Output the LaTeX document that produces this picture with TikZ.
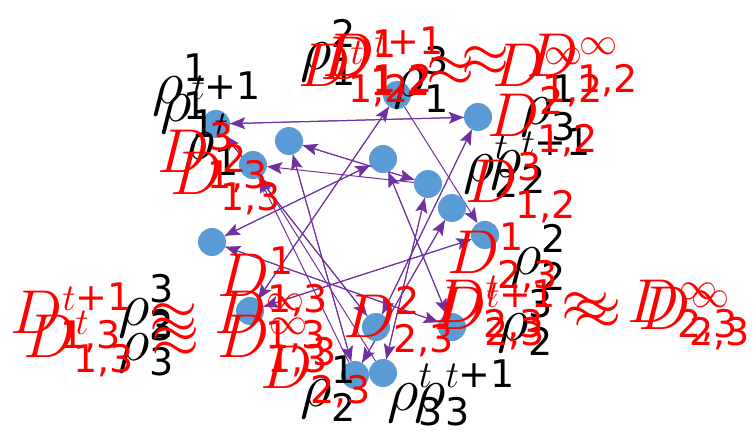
\RequirePackage{fix-cm}
\documentclass[tikz,border=0pt]{standalone}
\usepackage{amsmath}
\usepackage{fontspec}
\setmainfont{DejaVu Sans}
\usetikzlibrary{arrows.meta,backgrounds}
\DeclareMathSizes{62}{62}{38}{30}
\definecolor{nodeblue}{HTML}{5B9BD5}
\definecolor{edgepurple}{HTML}{7030A0}
\newcommand\tx[1]{\text{#1}}
\begin{document}
\begin{tikzpicture}[x=1pt,y=-1pt,
  dot/.style={circle,fill=nodeblue,minimum size=28pt,inner sep=0pt},
  edge/.style={draw=edgepurple,line width=1pt,-{Stealth[length=15pt,width=12pt,inset=3pt]}},
  lab/.style={anchor=base west,inner sep=0pt,font=\fontsize{62}{70}\selectfont},
  blab/.style={lab,text=black},
  rlab/.style={lab,text=red}]
\useasboundingbox (0,0) rectangle (756,433);
% nodes
\node[dot] (A) at (216,124) {};
\node[dot] (B) at (253,165) {};
\node[dot] (C) at (289,141) {};
\node[dot] (D) at (383,159) {};
\node[dot] (E) at (428,184) {};
\node[dot] (F) at (452,208) {};
\node[dot] (G) at (485,235) {};
\node[dot] (H) at (478,117) {};
\node[dot] (I) at (397,95) {};
\node[dot] (J) at (212,242) {};
\node[dot] (K) at (250,311) {};
\node[dot] (L) at (376,327) {};
\node[dot] (M) at (452,327) {};
\node[dot] (N) at (355,375) {};
\node[dot] (O) at (383,373) {};
% edges
\begin{pgfonlayer}{background}
\draw[edge] (A) -- (H); \draw[edge] (H) -- (A);
\draw[edge] (I) -- (K); \draw[edge] (K) -- (I);
\draw[edge] (D) -- (J); \draw[edge] (J) -- (D);
\draw[edge] (C) -- (N); \draw[edge] (N) -- (C);
\draw[edge] (C) -- (E); \draw[edge] (E) -- (C);
\draw[edge] (E) -- (B);
\draw[edge] (J) -- (M); \draw[edge] (M) -- (J);
\draw[edge] (K) -- (G); \draw[edge] (G) -- (K);
\draw[edge] (A) -- (L); \draw[edge] (L) -- (A);
\draw[edge] (I) -- (G);
\draw[edge] (H) -- (L); \draw[edge] (L) -- (H);
\draw[edge] (F) -- (N); \draw[edge] (N) -- (F);
\draw[edge] (E) -- (O); \draw[edge] (O) -- (E);
\draw[edge] (D) -- (M); \draw[edge] (M) -- (D);
\draw[edge] (N) -- (B); \draw[edge] (O) -- (B);
\end{pgfonlayer}
% black labels
\node[blab] (r11) at (152,104) {$\rho_{\tx{1}}^{\tx{1}}$};
\node[blab] (r1t1) at (160,122) {$\rho_{\tx{1}}^{t\tx{+1}}$};
\node[blab] (r1t) at (183,160) {$\rho_{\tx{1}}^t$};
\node[blab] (r12) at (300,70) {$\rho_{\tx{1}}^{\tx{2}}$};
\node[blab] (r13) at (393,97) {$\rho_{\tx{1}}^{\tx{3}}$};
\node[blab] (r31) at (520,125) {$\rho_{\tx{3}}^{\tx{1}}$};
\node[blab] (r2t) at (463,182) {$\rho_{\tx{2}}^t$};
\node[blab] (r2t1) at (490,178) {$\rho_{\tx{2}}^{t\tx{+1}}$};
\node[blab] (r22) at (510,275) {$\rho_{\tx{2}}^{\tx{2}}$};
\node[blab] (r23) at (497,340) {$\rho_{\tx{2}}^{\tx{3}}$};
\node[blab] (r21) at (300,406) {$\rho_{\tx{2}}^{\tx{1}}$};
\node[blab] (r3t) at (387,410) {$\rho_{\tx{3}}^t$};
\node[blab] (r3t1) at (414,410) {$\rho_{\tx{3}}^{t\tx{+1}}$};
\node[blab] (r33) at (118,325) {$\rho_{\tx{3}}^{\tx{3}}$};
\node[blab] (r32) at (118,360) {$\rho_{\tx{3}}^{\tx{2}}$};
% red labels
\node[rlab] (d121) at (320,80) {$D_{\tx{1,2}}^{\tx{1}}$};
\node[rlab] (d12x) at (322,77) {$D_{\tx{1,2}}^{t\tx{+1}}\approx D_{\tx{1,2}}^{\infty}$};
\node[rlab] (d12y) at (298,87) {$D_{\tx{1,2}}^{t}\approx D_{\tx{1,2}}^{\infty}$};
\node[rlab] (d122) at (487,137) {$D_{\tx{1,2}}^{\tx{2}}$};
\node[rlab] (d123) at (465,203) {$D_{\tx{1,2}}^{\tx{3}}$};
\node[rlab] (d133) at (157,173) {$D_{\tx{1,3}}^{\tx{3}}$};
\node[rlab] (d132) at (170,195) {$D_{\tx{1,3}}^{\tx{2}}$};
\node[rlab] (d131) at (217,297) {$D_{\tx{1,3}}^{\tx{1}}$};
\node[rlab] (d13x) at (10,333) {$D_{\tx{1,3}}^{t\tx{+1}}\approx D_{\tx{1,3}}^{\infty}$};
\node[rlab] (d13y) at (23,357) {$D_{\tx{1,3}}^{t}\approx D_{\tx{1,3}}^{\infty}$};
\node[rlab] (d231) at (447,273) {$D_{\tx{2,3}}^{\tx{1}}$};
\node[rlab] (d232) at (343,337) {$D_{\tx{2,3}}^{\tx{2}}$};
\node[rlab] (d233) at (260,388) {$D_{\tx{2,3}}^{\tx{3}}$};
\node[rlab] (d23x) at (434,330) {$D_{\tx{2,3}}^{t\tx{+1}}\approx D_{\tx{2,3}}^{\infty}$};
\node[rlab] (d23y) at (433,322) {$D_{\tx{2,3}}^{t}\approx D_{\tx{2,3}}^{\infty}$};
\end{tikzpicture}
\end{document}
